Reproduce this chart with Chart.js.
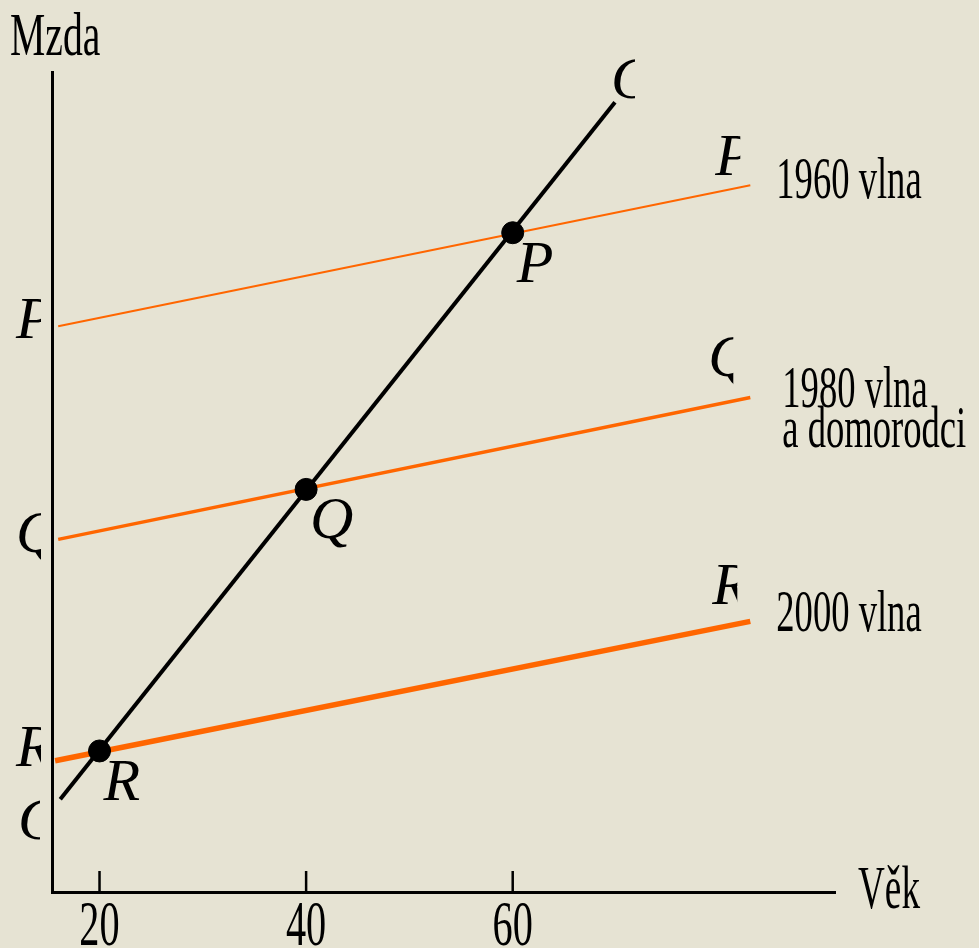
<!DOCTYPE html>
<html>
<head>
<meta charset="utf-8">
<script src="https://cdn.jsdelivr.net/npm/chart.js@4.4.1/dist/chart.umd.min.js"></script>
<style>
html, body { margin: 0; padding: 0; background: #e6e3d3; }
#wrap { width: 979px; height: 948px; }
</style>
</head>
<body>
<div id="wrap"><canvas id="ageWage"></canvas></div>
<script>
// vek (age) ticks on the x axis
var ageTicks = [20, 40, 60];
var ageTickLabels = ['20', '40', '60'];

// cross-section line C-C
var crossAge = [16.2, 69.9];
var crossWage = [11.3, 96.3];

// wage profiles of the immigrant waves
var wave1960Age = [16.0, 83.0];
var wave1960Wage = [69.0, 86.2];
var wave1980Age = [16.0, 83.0];
var wave1980Wage = [43.0, 60.3];
var wave2000Age = [15.7, 83.0];
var wave2000Wage = [16.0, 33.0];

// observed points
var pointNames = ['P', 'Q', 'R'];
var pointAge = [60, 40, 20];
var pointWage = [80.4, 49.1, 17.2];

var waveNames = [['1960 vlna'], ['1980 vlna', 'a domorodci'], ['2000 vlna']];
var waveLetters = ['P', 'Q', 'R'];

function xy(xs, ys) {
    return xs.map(function (x, i) { return { x: x, y: ys[i] }; });
}

var orange = '#ff6600';
var serif = "'Liberation Serif', 'Times New Roman', serif";

// squeezed text, the labels in the original are very narrow
function squeezed(ctx, text, x, y, size, sx, align) {
    ctx.save();
    ctx.font = size + 'px ' + serif;
    ctx.textBaseline = 'alphabetic';
    ctx.textAlign = align || 'left';
    ctx.translate(x, y);
    ctx.scale(sx, 1);
    ctx.fillText(text, 0, 0);
    ctx.restore();
}

// italic letter cut off on the right like in the original
function letter(ctx, ch, left, base, clipW) {
    ctx.save();
    ctx.beginPath();
    ctx.rect(left - 8, base - 70, clipW + 8, 100);
    ctx.clip();
    ctx.font = 'italic 60px ' + serif;
    ctx.textAlign = 'left';
    ctx.textBaseline = 'alphabetic';
    ctx.fillText(ch, left, base);
    ctx.restore();
}

var annotate = {
    id: 'annotate',
    afterDatasetsDraw: function (chart) {
        var ctx = chart.ctx;
        var xs = chart.scales.x, ys = chart.scales.y;
        ctx.save();
        ctx.fillStyle = '#000';
        ctx.strokeStyle = '#000';

        // tick marks pointing up into the plot, labels below
        ctx.lineWidth = 2.5;
        ageTicks.forEach(function (a, i) {
            var px = xs.getPixelForValue(a);
            ctx.beginPath();
            ctx.moveTo(px, ys.bottom);
            ctx.lineTo(px, ys.bottom - 21);
            ctx.stroke();
            squeezed(ctx, ageTickLabels[i], px, 945, 64, 0.63, 'center');
        });

        // axis titles
        squeezed(ctx, 'Mzda', 10, 55, 62, 0.64);
        squeezed(ctx, 'Věk', 858, 908, 62, 0.6);

        // wave labels at the right end of each line
        var ends = [
            { age: wave1960Age, wage: wave1960Wage, dy: 13 },
            { age: wave1980Age, wage: wave1980Wage, dy: 9 },
            { age: wave2000Age, wage: wave2000Wage, dy: 10 }
        ];
        var letterOff = [[-35, -10], [-42, -22], [-38, -17]];
        var leftOff = [12, 13, 5];
        ends.forEach(function (e, i) {
            var ex = xs.getPixelForValue(e.age[1]);
            var ey = ys.getPixelForValue(e.wage[1]);
            waveNames[i].forEach(function (t, j) {
                squeezed(ctx, t, ex + 26 + (i === 1 ? 6 : 0), ey + e.dy + j * 40, 60, 0.61);
            });
            letter(ctx, waveLetters[i], ex + letterOff[i][0], ey + letterOff[i][1], 25);
            letter(ctx, waveLetters[i], 16, ys.getPixelForValue(e.wage[0]) + leftOff[i], 25);
        });

        // C at both ends of the cross-section line
        letter(ctx, 'C', 18, ys.getPixelForValue(crossWage[0]) + 40, 22);
        letter(ctx, 'C', xs.getPixelForValue(crossAge[1]) - 4, ys.getPixelForValue(crossWage[1]) - 4, 24);

        // point labels
        pointNames.forEach(function (n, i) {
            var px = xs.getPixelForValue(pointAge[i]);
            var py = ys.getPixelForValue(pointWage[i]);
            letter(ctx, n, px + 4, py + 49, 44);
        });
        ctx.restore();
    }
};

var ctx = document.getElementById('ageWage').getContext('2d');
var myChart = new Chart(ctx, {
    type: 'scatter',
    data: {
        datasets: [{
            label: 'body',
            data: xy(pointAge, pointWage),
            backgroundColor: '#000',
            borderColor: '#000',
            pointRadius: 11,
            showLine: false
        }, {
            label: 'C',
            data: xy(crossAge, crossWage),
            borderColor: '#000',
            borderWidth: 4,
            pointRadius: 0,
            showLine: true
        }, {
            label: '1960 vlna',
            data: xy(wave1960Age, wave1960Wage),
            borderColor: orange,
            borderWidth: 2,
            pointRadius: 0,
            showLine: true
        }, {
            label: '1980 vlna',
            data: xy(wave1980Age, wave1980Wage),
            borderColor: orange,
            borderWidth: 3.5,
            pointRadius: 0,
            showLine: true
        }, {
            label: '2000 vlna',
            data: xy(wave2000Age, wave2000Wage),
            borderColor: orange,
            borderWidth: 5.5,
            pointRadius: 0,
            showLine: true
        }]
    },
    options: {
        responsive: true,
        maintainAspectRatio: false,
        animation: false,
        layout: { padding: { left: 52, top: 72, right: 144, bottom: 56 } },
        plugins: {
            legend: { display: false },
            tooltip: { enabled: false }
        },
        scales: {
            x: {
                type: 'linear',
                min: 15.4,
                max: 91.2,
                ticks: { display: false },
                grid: { display: false, drawTicks: false },
                border: { display: true, color: '#000', width: 3 }
            },
            y: {
                type: 'linear',
                min: 0,
                max: 100,
                ticks: { display: false },
                grid: { display: false, drawTicks: false },
                border: { display: true, color: '#000', width: 3 }
            }
        }
    },
    plugins: [annotate]
});
</script>
</body>
</html>
